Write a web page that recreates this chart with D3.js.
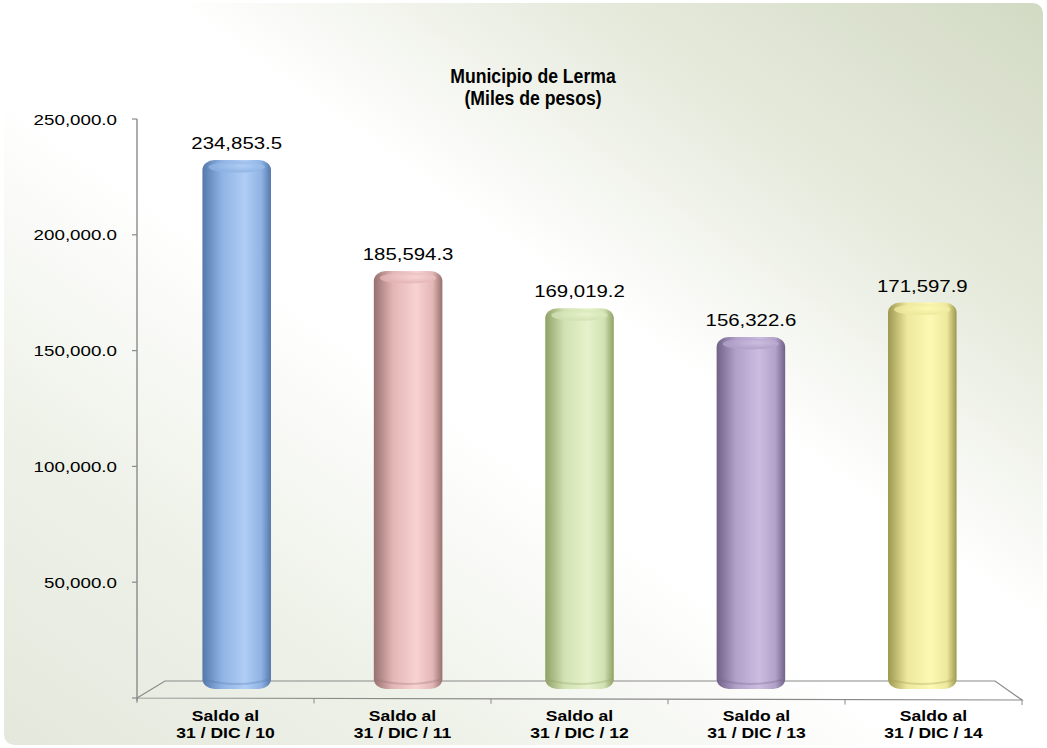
<!DOCTYPE html>
<html>
<head>
<meta charset="utf-8">
<script src="https://cdn.jsdelivr.net/npm/d3@7"></script>
<style>
  html, body { margin: 0; padding: 0; background: #ffffff; }
  svg { display: block; }
  text { font-family: "Liberation Sans", Arial, sans-serif; fill: #000; }
</style>
</head>
<body>
<svg id="chart" width="1047" height="748"></svg>
<script>
// Saldo de la deuda, Municipio de Lerma (miles de pesos)
const titleLines = ["Municipio de Lerma", "(Miles de pesos)"];
const categories = ["Saldo al|31 / DIC / 10", "Saldo al|31 / DIC / 11", "Saldo al|31 / DIC / 12", "Saldo al|31 / DIC / 13", "Saldo al|31 / DIC / 14"];
const values = [234853.5, 185594.3, 169019.2, 156322.6, 171597.9];
const tickValues = [50000, 100000, 150000, 200000, 250000];
const barColors = [
  { dark: "#5478ab", base: "#8eb3e3", light: "#b0cdf5" },
  { dark: "#96716f", base: "#e3b6b5", light: "#f8d2d2" },
  { dark: "#8fa166", base: "#d2e1b2", light: "#e6f2cc" },
  { dark: "#716188", base: "#b1a0c8", light: "#cbbde0" },
  { dark: "#9d9850", base: "#ede89c", light: "#fdf9b4" }
];

const svg = d3.select("#chart");
const W = 1047, H = 748;
const defs = svg.append("defs");

// Panel background: sage tint in the top-right and bottom-left corners
const bg = defs.append("linearGradient").attr("id", "bgGrad")
  .attr("x1", "100%").attr("y1", "0%").attr("x2", "0%").attr("y2", "100%");
bg.append("stop").attr("offset", "0").attr("stop-color", "#d2dac4");
bg.append("stop").attr("offset", "0.22").attr("stop-color", "#e6eadc");
bg.append("stop").attr("offset", "0.42").attr("stop-color", "#ffffff");
bg.append("stop").attr("offset", "0.56").attr("stop-color", "#ffffff");
bg.append("stop").attr("offset", "0.78").attr("stop-color", "#eef1e8");
bg.append("stop").attr("offset", "1").attr("stop-color", "#e4e8dc");
svg.append("rect").attr("x", 4).attr("y", 3).attr("width", W - 8).attr("height", H - 6)
  .attr("rx", 10).attr("fill", "url(#bgGrad)");

// Front plane of the value axis, and the mid-depth plane where the cylinders stand
const front = { left: 137, right: 1022, bottom: 698, top: 119 };
const depth = { dx: 28, dy: -17 };
const yAxis = d3.scaleLinear().domain([0, 250000]).range([front.bottom, front.top]);
const yBar = d3.scaleLinear().domain([0, 250000]).range([689, 126]);
const xFront = d3.scaleBand().domain(categories).range([front.left, front.right]).padding(0);
const xMid = d3.scaleBand().domain(categories).range([front.left + 14, front.right - 14]).padding(0);
const barW = xMid.step() * 0.4;

// Horizontally widened text helper
function label(g, x, y, str, o) {
  return g.append("text")
    .attr("transform", `translate(${x},${y}) scale(${o.sx || 1},1)`)
    .attr("text-anchor", o.anchor || "middle")
    .attr("font-size", o.size)
    .attr("font-weight", o.weight || "normal")
    .text(str);
}

// Floor
const axisColor = "#8a8a8a";
const floor = svg.append("g");
floor.append("path")
  .attr("d", d3.line()([
    [front.left, front.bottom],
    [front.left + depth.dx, front.bottom + depth.dy],
    [front.right - depth.dx + 1, front.bottom + depth.dy],
    [front.right, front.bottom + 2],
    [front.left, front.bottom]
  ]))
  .attr("fill", "none").attr("stroke", axisColor).attr("stroke-width", 1.2);

// Category ticks on the front floor edge
floor.selectAll("line.ctick")
  .data(categories.slice(1).map(c => xFront(c)).concat([front.left, front.right]))
  .join("line").attr("class", "ctick")
  .attr("x1", d => d).attr("x2", d => d)
  .attr("y1", d => front.bottom + (d - front.left) / (front.right - front.left) * 2)
  .attr("y2", d => front.bottom + 5 + (d - front.left) / (front.right - front.left) * 2)
  .attr("stroke", axisColor).attr("stroke-width", 1);

// Value axis
const axisG = svg.append("g");
axisG.append("line")
  .attr("x1", front.left).attr("x2", front.left)
  .attr("y1", yAxis(250000)).attr("y2", front.bottom + 3)
  .attr("stroke", axisColor).attr("stroke-width", 1.4);
axisG.selectAll("line.ytick").data([0].concat(tickValues)).join("line").attr("class", "ytick")
  .attr("x1", front.left - 5).attr("x2", front.left)
  .attr("y1", d => yAxis(d)).attr("y2", d => yAxis(d))
  .attr("stroke", axisColor).attr("stroke-width", 1.2);
const fmt = d3.format(",.1f");
tickValues.forEach(v => {
  label(axisG, 117, yAxis(v) + 5.5, fmt(v), { size: 15, sx: 1.25, anchor: "end" });
});

// Cylinder gradients
barColors.forEach((c, i) => {
  const g = defs.append("linearGradient").attr("id", "body" + i)
    .attr("x1", "0%").attr("x2", "100%").attr("y1", "0%").attr("y2", "0%");
  g.append("stop").attr("offset", "0").attr("stop-color", c.dark);
  g.append("stop").attr("offset", "0.28").attr("stop-color", c.base);
  g.append("stop").attr("offset", "0.62").attr("stop-color", c.light);
  g.append("stop").attr("offset", "0.86").attr("stop-color", c.base);
  g.append("stop").attr("offset", "1").attr("stop-color", c.dark);
  const t = defs.append("radialGradient").attr("id", "cap" + i)
    .attr("cx", "60%").attr("cy", "40%").attr("r", "70%");
  t.append("stop").attr("offset", "0").attr("stop-color", c.light);
  t.append("stop").attr("offset", "0.75").attr("stop-color", c.base);
  t.append("stop").attr("offset", "1").attr("stop-color", c.base);
});

// Cylinders
const bars = svg.append("g");
categories.forEach((cat, i) => {
  const cx = xMid(cat) + xMid.step() / 2;
  const x0 = cx - barW / 2;
  const top = yBar(values[i]);
  const bottom = yBar(0);
  const g = bars.append("g");
  g.append("rect")
    .attr("x", x0).attr("y", top)
    .attr("width", barW).attr("height", bottom - top)
    .attr("rx", 12).attr("ry", 10)
    .attr("fill", "url(#body" + i + ")");
  // darker bottom rim
  g.append("path")
    .attr("d", `M${x0 + 3},${bottom - 9} Q${cx},${bottom - 1} ${x0 + barW - 3},${bottom - 9}`)
    .attr("fill", "none").attr("stroke", barColors[i].dark).attr("stroke-opacity", 0.3).attr("stroke-width", 2);
  // rounded top face
  g.append("ellipse")
    .attr("cx", cx).attr("cy", top + 7)
    .attr("rx", barW / 2 - 6).attr("ry", 5.5)
    .attr("fill", "url(#cap" + i + ")").attr("opacity", 0.85);
  // value label
  label(svg, cx, top - 11, fmt(values[i]), { size: 17, sx: 1.2 });
});

// Category labels
categories.forEach(cat => {
  const cx = xFront(cat) + xFront.bandwidth() / 2;
  const parts = cat.split("|");
  label(svg, cx, 721, parts[0], { size: 15, sx: 1.17, weight: "bold" });
  label(svg, cx, 737.5, parts[1], { size: 15, sx: 1.17, weight: "bold" });
});

// Title
label(svg, 533, 83, titleLines[0], { size: 21, sx: 0.84, weight: "bold" });
label(svg, 533, 105, titleLines[1], { size: 21, sx: 0.84, weight: "bold" });
</script>
</body>
</html>
